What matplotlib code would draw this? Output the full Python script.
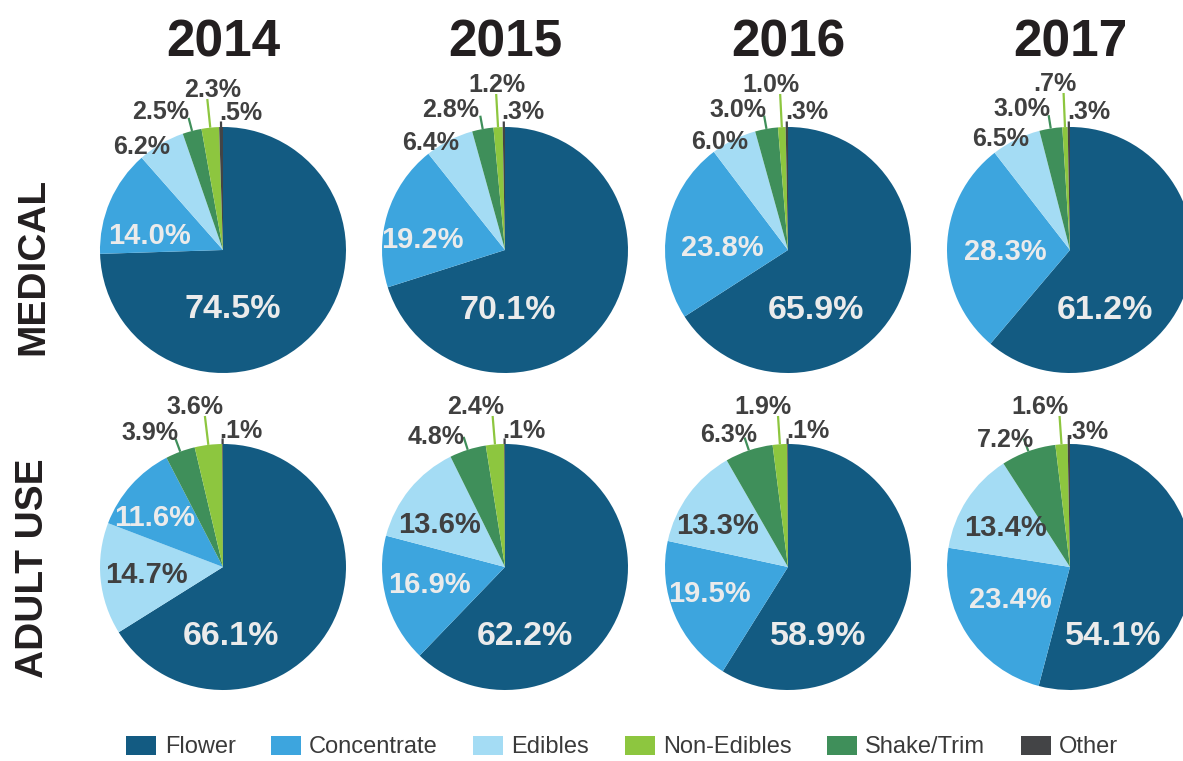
import matplotlib.pyplot as plt
from matplotlib.patches import Patch
import numpy as np

plt.rcParams['font.family'] = ['Liberation Sans', 'DejaVu Sans']

years = ['2014', '2015', '2016', '2017']
row_names = ['MEDICAL', 'ADULT USE']
categories = ['Flower', 'Concentrate', 'Edibles', 'Non-Edibles', 'Shake/Trim', 'Other']
colors = ['#135b82', '#3da5de', '#a4dcf4', '#8dc63f', '#3f8f5a', '#434446']

# market share (%) by year
med_flower = [74.5, 70.1, 65.9, 61.2]
med_concentrate = [14.0, 19.2, 23.8, 28.3]
med_edibles = [6.2, 6.4, 6.0, 6.5]
med_non_edibles = [2.3, 1.2, 1.0, 0.7]
med_shake = [2.5, 2.8, 3.0, 3.0]
med_other = [0.5, 0.3, 0.3, 0.3]

adult_flower = [66.1, 62.2, 58.9, 54.1]
adult_concentrate = [11.6, 16.9, 19.5, 23.4]
adult_edibles = [14.7, 13.6, 13.3, 13.4]
adult_non_edibles = [3.6, 2.4, 1.9, 1.6]
adult_shake = [3.9, 4.8, 6.3, 7.2]
adult_other = [0.1, 0.1, 0.1, 0.3]

rows = [
    [med_flower, med_concentrate, med_edibles, med_non_edibles, med_shake, med_other],
    [adult_flower, adult_concentrate, adult_edibles, adult_non_edibles, adult_shake, adult_other],
]

# layout (pixels)
W, H = 1183, 761
R = 123
col_x = [223, 505, 788, 1070]
row_y = [250, 567]

# hand-placed label offsets from pie centre, px (dx, dy down), order as categories
label_off = {
    (0, 0): [(10, 56), (-73, -16), (-81, -105), (-10, -162), (-62, -140), (18, -139)],
    (0, 1): [(3, 57), (-83, -12), (-74, -109), (-8, -167), (-54, -142), (18, -140)],
    (0, 2): [(28, 57), (-66, -4), (-68, -110), (-17, -167), (-50, -142), (19, -140)],
    (0, 3): [(35, 57), (-65, 0), (-69, -113), (-15, -168), (-48, -143), (19, -140)],
    (1, 0): [(8, 66), (-68, -51), (-77, 6), (-28, -162), (-73, -136), (18, -138)],
    (1, 1): [(20, 66), (-76, 16), (-65, -44), (-29, -162), (-69, -132), (19, -138)],
    (1, 2): [(30, 66), (-79, 25), (-70, -43), (-25, -162), (-59, -134), (20, -138)],
    (1, 3): [(43, 66), (-60, 31), (-65, -41), (-30, -162), (-65, -129), (17, -137)],
}


def fmt(v):
    s = f'{v:.1f}%'
    return s[1:] if s.startswith('0') else s


fig = plt.figure(figsize=(W / 100, H / 100), dpi=100)

S = 215
lim = S / R
for ri in range(2):
    for ci in range(4):
        cx, cy = col_x[ci], row_y[ri]
        ax = fig.add_axes([(cx - S) / W, (H - cy - S) / H, 2 * S / W, 2 * S / H])
        vals = [series[ci] for series in rows[ri]]
        order = np.argsort(vals)[::-1]
        sv = [vals[k] for k in order]
        sc = [colors[k] for k in order]
        ax.pie(sv, colors=sc, startangle=90, counterclock=False, radius=1,
               wedgeprops=dict(linewidth=0))
        ax.set_xlim(-lim, lim)
        ax.set_ylim(-lim, lim)
        ax.set_aspect('equal')
        ax.axis('off')

        # mid angle of each wedge, clockwise from 12 o'clock
        edges = np.cumsum([0] + sv) / 100 * 360
        mids = {order[i]: np.deg2rad((edges[i] + edges[i + 1]) / 2) for i in range(len(sv))}

        for k, cat in enumerate(categories):
            v = vals[k]
            dx, dy = label_off[(ri, ci)][k]
            inside = v >= 10
            if cat == 'Flower':
                fs, col = 24.5, '#ebebeb'
            elif inside:
                fs = 21
                col = '#404040' if cat == 'Edibles' else '#ebebeb'
            else:
                fs, col = 18, '#404040'
            fs_px = fs * 100 / 72
            ax.text(dx / R, -(dy + 0.358 * fs_px) / R, fmt(v), ha='center', va='baseline',
                    fontsize=fs, fontweight='bold', color=col)

            if inside or cat == 'Edibles':
                continue
            th = mids[k]
            ux, uy = np.sin(th), np.cos(th)
            if cat == 'Non-Edibles':
                r2 = ((-dy - 11) / R) / uy
            elif cat == 'Shake/Trim':
                r2 = 1.11
            else:
                r2 = 1.045
            ax.plot([ux, ux * r2], [uy, uy * r2], color=colors[k], lw=1.6,
                    solid_capstyle='butt')

title_fs = 37
for ci, yr in enumerate(years):
    fig.text(col_x[ci] / W, 1 - (38 + 0.358 * title_fs * 100 / 72) / H, yr,
             ha='center', va='baseline', fontsize=title_fs, fontweight='bold',
             color='#231f20')

fig.text(33 / W, 1 - 266 / H, row_names[0], rotation=90, ha='center', va='center',
         fontsize=28, fontweight='bold', color='#231f20')
fig.text(33 / W, 1 - 568 / H, row_names[1], rotation=90, ha='center', va='center',
         fontsize=28, fontweight='bold', color='#231f20')

handles = [Patch(facecolor=c, edgecolor='none') for c in colors]
fig.legend(handles, categories, loc='center', bbox_to_anchor=(0.526, 1 - 747 / H),
           ncol=6, frameon=False, fontsize=17, handlelength=1.27, handleheight=0.9,
           handletextpad=0.35, columnspacing=1.5, labelcolor='#3a3a3a',
           borderpad=0, borderaxespad=0)

fig.savefig('out.png', dpi=100)
